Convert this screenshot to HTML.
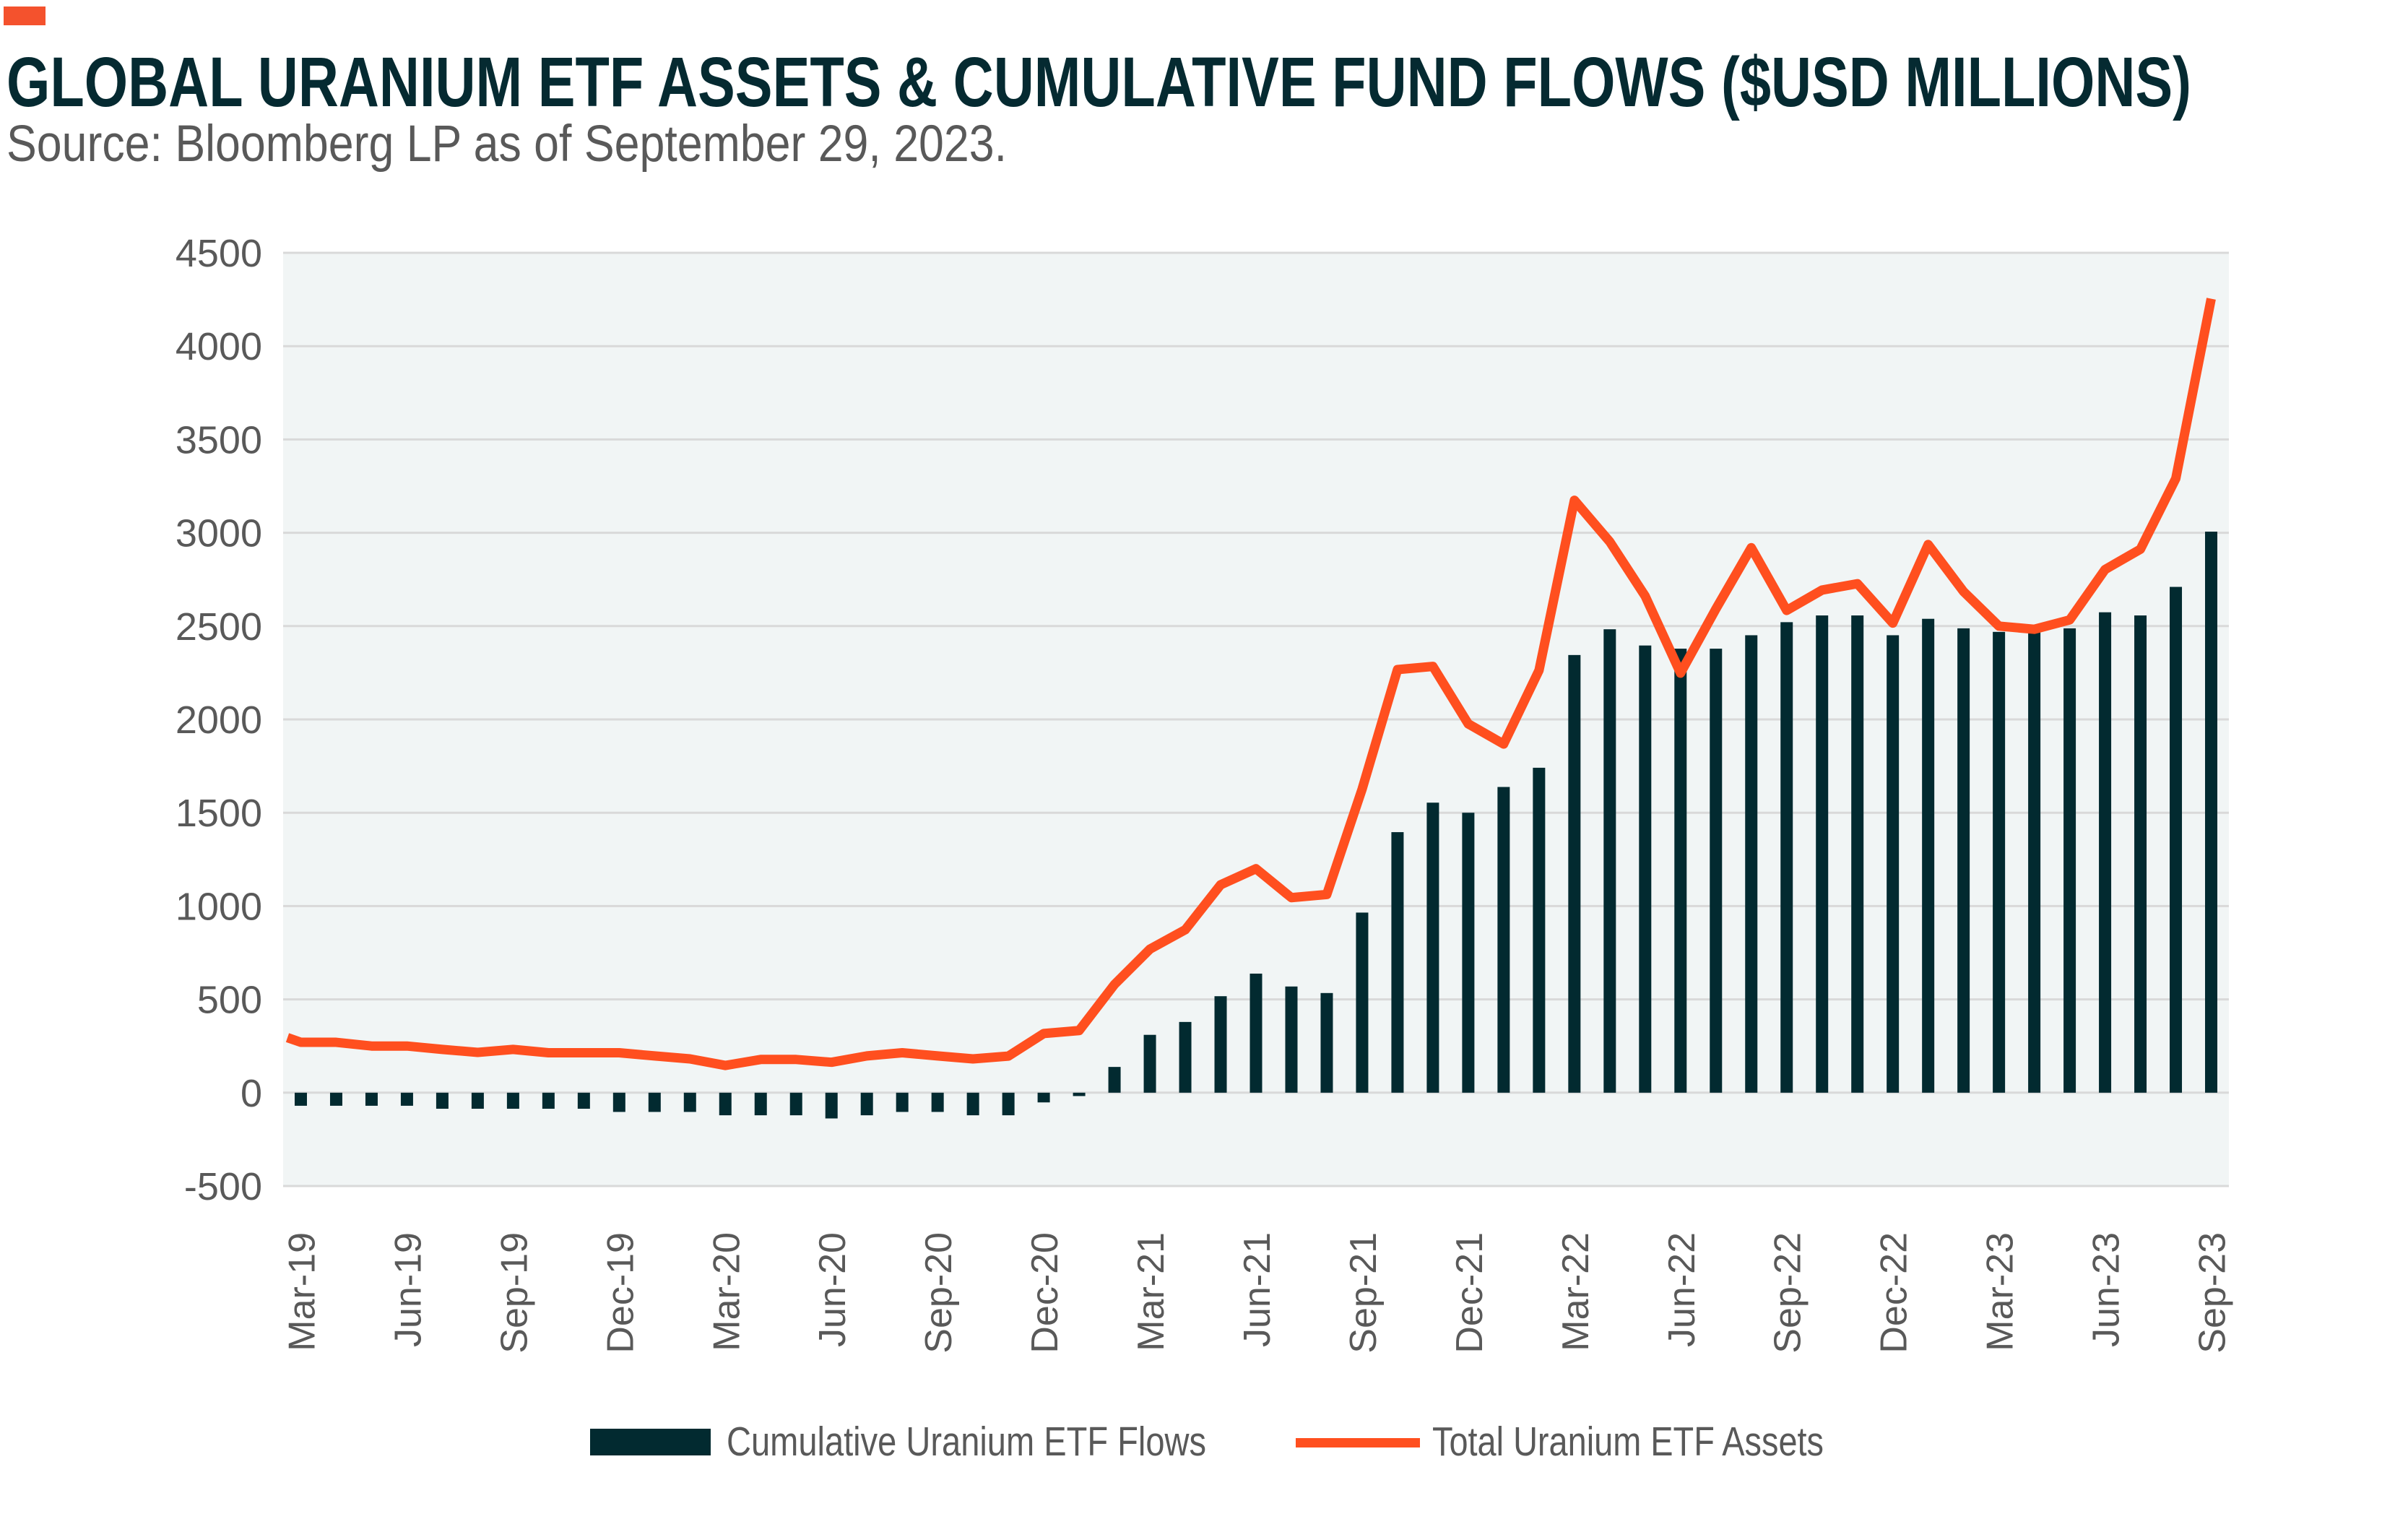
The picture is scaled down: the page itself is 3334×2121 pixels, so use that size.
<!DOCTYPE html>
<html><head><meta charset="utf-8"><style>
html,body{margin:0;padding:0;background:#fff;}
svg{display:block;font-family:"Liberation Sans",sans-serif;}
</style></head><body>
<svg id="chart" width="3334" height="2121" viewBox="0 0 3334 2121" xmlns="http://www.w3.org/2000/svg">
<rect x="5" y="9" width="58" height="26" fill="#f4522d"/>
<text x="9" y="147" font-size="97" font-weight="bold" fill="#052a31" textLength="3025" lengthAdjust="spacingAndGlyphs">GLOBAL URANIUM ETF ASSETS &amp; CUMULATIVE FUND FLOWS ($USD MILLIONS)</text>
<text x="9" y="223" font-size="71" fill="#595959" textLength="1385" lengthAdjust="spacingAndGlyphs">Source: Bloomberg LP as of September 29, 2023.</text>
<rect x="392" y="350" width="2694" height="1292" fill="#f1f5f5"/>
<g id="grid"></g>
<g id="bars"></g>
<g id="line"></g>
<g id="yticks"></g>
<g id="xticks"></g>
<g>
<rect x="817" y="1978" width="167" height="37" fill="#022a30"/>
<text x="1006" y="2015" font-size="57" fill="#595959" textLength="664" lengthAdjust="spacingAndGlyphs">Cumulative Uranium ETF Flows</text>
<rect x="1794" y="1991" width="172" height="13" fill="#ff4f1f"/>
<text x="1983" y="2015" font-size="57" fill="#595959" textLength="542" lengthAdjust="spacingAndGlyphs">Total Uranium ETF Assets</text>
</g>
</svg>
<script>
const months = ["Mar-19","Apr-19","May-19","Jun-19","Jul-19","Aug-19","Sep-19","Oct-19","Nov-19","Dec-19","Jan-20","Feb-20","Mar-20","Apr-20","May-20","Jun-20","Jul-20","Aug-20","Sep-20","Oct-20","Nov-20","Dec-20","Jan-21","Feb-21","Mar-21","Apr-21","May-21","Jun-21","Jul-21","Aug-21","Sep-21","Oct-21","Nov-21","Dec-21","Jan-22","Feb-22","Mar-22","Apr-22","May-22","Jun-22","Jul-22","Aug-22","Sep-22","Oct-22","Nov-22","Dec-22","Jan-23","Feb-23","Mar-23","Apr-23","May-23","Jun-23","Jul-23","Aug-23","Sep-23"];
const flows = [-70,-70,-70,-70,-86,-86,-86,-86,-86,-103,-103,-103,-121,-121,-121,-138,-121,-103,-103,-121,-121,-52,-18,138,310,379,517,638,569,534,965,1396,1554,1500,1638,1741,2345,2483,2396,2379,2379,2451,2521,2557,2557,2451,2539,2488,2469,2470,2488,2574,2557,2710,3006];
const assets = [270,270,250,250,232,216,232,214,214,214,197,181,146,178,178,163,197,214,197,181,196,317,333,580,769,873,1114,1200,1045,1062,1627,2267,2284,1976,1868,2263,3174,2952,2661,2248,2592,2920,2584,2693,2727,2516,2937,2685,2500,2483,2533,2803,2912,3291,4254];
const assetsLeadIn = 295;
const yTicks = [-500,0,500,1000,1500,2000,2500,3000,3500,4000,4500];
const xTickEvery = 3;

const NS = "http://www.w3.org/2000/svg";
const L = 392, R = 3086, T = 350, B = 1642, yMin = -500, yMax = 4500;
const band = (R - L) / months.length;
function xScale(i){ return L + (i + 0.5) * band; }
function yScale(v){ return B - (v - yMin) / (yMax - yMin) * (B - T); }
function mk(tag, attrs){ const e = document.createElementNS(NS, tag); for (const k in attrs) e.setAttribute(k, attrs[k]); return e; }

const grid = document.getElementById('grid');
const yt = document.getElementById('yticks');
yTicks.forEach(v => {
  const ln = mk('line', {x1:L, x2:R, y1:yScale(v), y2:yScale(v), stroke:'#d9d9d9', 'stroke-width':3});
  
  
  grid.appendChild(ln);
  const t = mk('text', {x:363, y:yScale(v)+19, 'font-size':54, fill:'#595959', 'text-anchor':'end'});
  
  
  t.textContent = v;
  yt.appendChild(t);
});

const bars = document.getElementById('bars');
const bw = 17;
flows.forEach((v, i) => {
  const y0 = yScale(0), y1 = yScale(v);
  const r = mk('rect', {x:xScale(i)-bw/2, y:Math.min(y0,y1), width:bw, height:Math.abs(y1-y0), fill:'#022a30'});
  
  
  bars.appendChild(r);
});

let pts = [[L+6, yScale(assetsLeadIn)]];
assets.forEach((v, i) => pts.push([xScale(i), yScale(v)]));
const pl = mk('polyline', {points: pts.map(p => p.join(',')).join(' '), fill:'none', stroke:'#ff4f1f', 'stroke-width':13, 'stroke-linejoin':'round'});


document.getElementById('line').appendChild(pl);

const xt = document.getElementById('xticks');
months.forEach((m, i) => {
  if (i % xTickEvery !== 0) return;
  const x = xScale(i) + 19, y = 1706;
  const t = mk('text', {x:x, y:y, 'font-size':52, fill:'#595959', 'text-anchor':'end', transform:`rotate(-90 ${x} ${y})`});
  
  
  t.textContent = m;
  xt.appendChild(t);
});
</script>
</body></html>
